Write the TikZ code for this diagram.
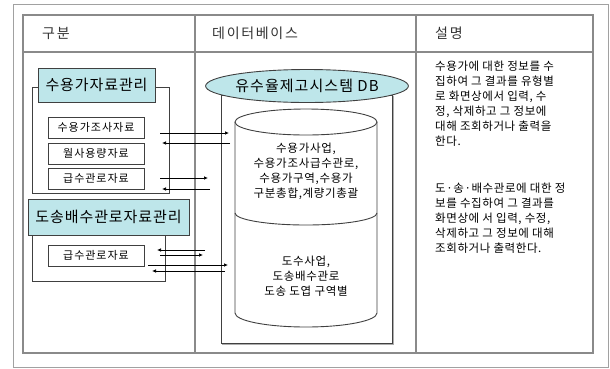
\documentclass[tikz,border=0pt]{standalone}
\usepackage{fontspec}
\setmainfont{Noto Sans CJK KR}
\usetikzlibrary{arrows.meta,shapes.geometric}
\definecolor{boxcyan}{HTML}{BEE6EA}
\definecolor{tblgray}{HTML}{8A8A8A}
\definecolor{linedark}{HTML}{404040}
\newcommand{\spc}[1]{\addfontfeature{LetterSpace=#1}}
\tikzset{
  frameline/.style={draw=tblgray, line width=1.2pt},
  titlebox/.style={draw=linedark, fill=boxcyan, line width=0.9pt, inner sep=0pt, font=\fontsize{15}{16}\selectfont\spc{6}},
  subbox/.style={draw=linedark, fill=white, line width=0.9pt, minimum width=96pt, minimum height=21pt, inner sep=0pt, font=\fontsize{11}{12}\selectfont\spc{9}},
  hdr/.style={anchor=west, inner sep=0pt, text=black!80, font=\fontsize{14}{16}\selectfont\spc{12}},
  flow/.style={draw=black, line width=0.7pt, -{Latex[length=4pt,width=3.5pt]}},
  dbtext/.style={align=center, inner sep=0pt, font=\fontsize{11.5}{15}\selectfont\spc{6}},
  desc/.style={align=left, anchor=north west, inner sep=0pt, font=\fontsize{11.5}{15}\selectfont\spc{5}},
}
\begin{document}
\begin{tikzpicture}[x=1pt,y=-1pt]
\useasboundingbox (0,0) rectangle (610,368);
% outer frame and table
\draw[draw=tblgray!80, line width=1pt] (13,4) rectangle (608,367);
\draw[frameline] (23,15) rectangle (593,353);
\draw[frameline] (23,52) -- (593,52);
\draw[frameline] (195,15) -- (195,353);
\draw[frameline] (416,15) -- (416,353);
% headers
\node[hdr] (h1) at (42,33) {구분};
\node[hdr] (h2) at (212,33) {데이터베이스};
\node[hdr] (h3) at (435,33) {설명};

% left group 1
\draw[draw=linedark, line width=0.9pt] (32,87) rectangle (169,193);
\node[titlebox, minimum width=117pt, minimum height=34pt] (g1) at (96.5,85) {수용가자료관리};
\node[subbox] (s1) at (96,127.5) {수용가조사자료};
\node[subbox] (s2) at (96,153.5) {월사용량자료};
\node[subbox] (s3) at (96,178.5) {급수관로자료};

% left group 2
\draw[draw=linedark, line width=0.9pt] (32,217) rectangle (165,281);
\node[titlebox, minimum width=161pt, minimum height=36pt] (g2) at (108.5,217) {도송배수관로자료관리};
\node[subbox] (s4) at (96,255.5) {급수관로자료};

% middle: database
\draw[draw=linedark, line width=1pt] (221,95) rectangle (392,343);
\draw[draw=tblgray!70, line width=1pt] (393.5,96) -- (393.5,344.5) -- (222,344.5);
\node[ellipse, draw=linedark, fill=boxcyan, line width=0.9pt, minimum width=182pt, minimum height=33pt, inner sep=0pt, font=\fontsize{15}{16}\selectfont\spc{7}] (dbt) at (307,86) {유수율제고시스템 DB};
\fill[white] (235,122) -- (235,313) arc(180:360:71pt and 14pt) -- (377,122) -- cycle;
\draw[draw=linedark, line width=0.9pt] (235,122) -- (235,313) arc(180:360:71pt and 14pt) -- (377,122);
\draw[draw=linedark, line width=0.9pt, fill=white] (306,122) ellipse (71pt and 13pt);
\draw[draw=linedark, line width=0.9pt] (235,213) arc(180:360:71pt and 12pt);
\node[dbtext] (c1) at (306,171) {수용가사업,\\수용가조사급수관로,\\수용가구역,수용가\\구분총합,계량기총괄};
\node[dbtext] (c2) at (306,276) {도수사업,\\도송배수관로\\도송 도엽 구역별};

% arrows
\coordinate (a1s) at (160,133); \coordinate (a1e) at (229,133);
\coordinate (b1s) at (230,143); \coordinate (b1e) at (162,143);
\coordinate (a2s) at (160,178); \coordinate (a2e) at (208,178);
\coordinate (b2s) at (210,189); \coordinate (b2e) at (162,189);
\coordinate (a3s) at (205,250); \coordinate (a3e) at (157,250);
\coordinate (b3s) at (160,255); \coordinate (b3e) at (203,255);
\coordinate (a4s) at (148,265); \coordinate (a4e) at (228,265);
\coordinate (b4s) at (225,271); \coordinate (b4e) at (152,271);
\draw[flow] (a1s) -- (a1e);
\draw[flow] (b1s) -- (b1e);
\draw[flow] (a2s) -- (a2e);
\draw[flow] (b2s) -- (b2e);
\draw[flow] (a3s) -- (a3e);
\draw[flow] (b3s) -- (b3e);
\draw[flow] (a4s) -- (a4e);
\draw[flow] (b4s) -- (b4e);

% right: descriptions
\node[desc] (d1) at (435,61) {수용가에 대한 정보를 수\\집하여 그 결과를 유형별\\로 화면상에서 입력, 수\\정, 삭제하고 그 정보에\\대해 조회하거나 출력을\\한다.};
\node[desc] (d2) at (435,183) {도·송·배수관로에 대한 정\\보를 수집하여 그 결과를\\화면상에 서 입력, 수정,\\삭제하고 그 정보에 대해\\조회하거나 출력한다.};
\end{tikzpicture}
\end{document}
